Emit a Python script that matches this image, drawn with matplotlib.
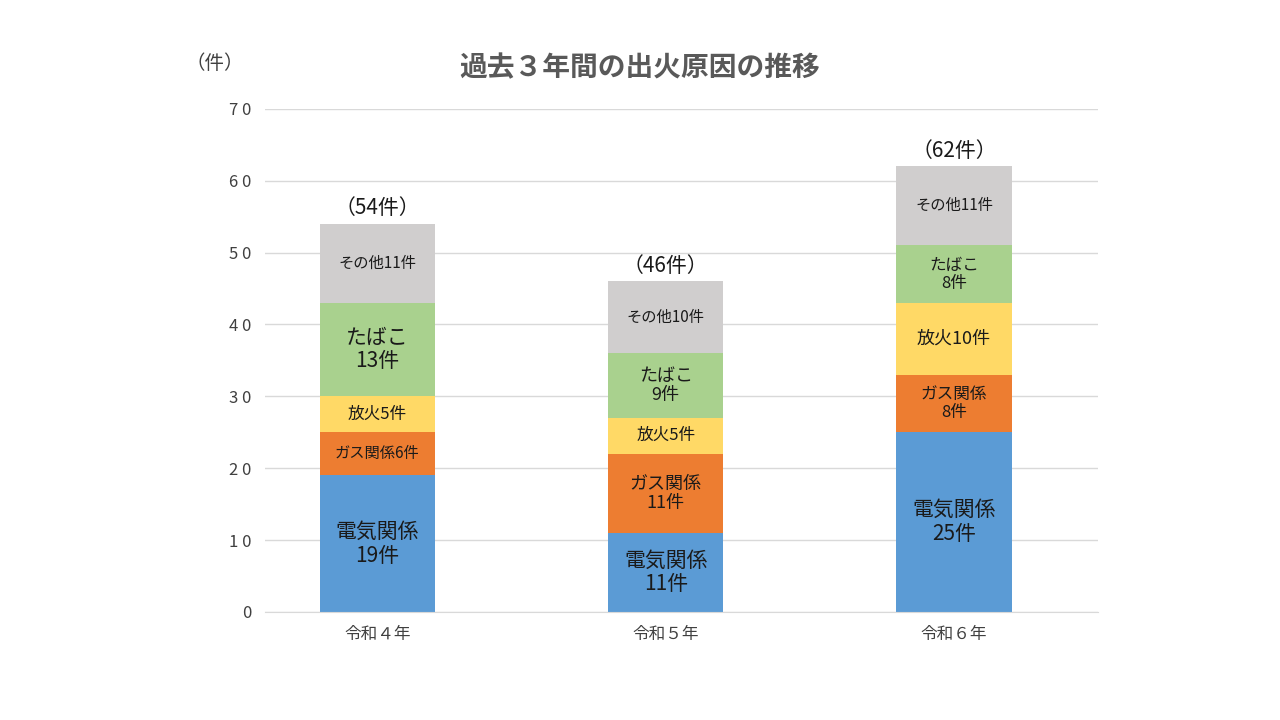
import matplotlib.pyplot as plt

plt.rcParams['font.family'] = 'Noto Sans CJK JP'

years = ['令和４年', '令和５年', '令和６年']
causes = ['電気関係', 'ガス関係', '放火', 'たばこ', 'その他']
values = {
    '電気関係': [19, 11, 25],
    'ガス関係': [6, 11, 8],
    '放火': [5, 5, 10],
    'たばこ': [13, 9, 8],
    'その他': [11, 10, 11],
}
totals = [54, 46, 62]
colors = ['#5B9BD5', '#ED7D31', '#FFD966', '#A9D18E', '#D0CECE']

# segment labels as shown in the chart (text, fontsize)
labels = {
    '電気関係': [('電気関係\n19件', 15), ('電気関係\n11件', 15), ('電気関係\n25件', 15)],
    'ガス関係': [('ガス関係6件', 11), ('ガス関係\n11件', 13), ('ガス関係\n8件', 12)],
    '放火': [('放火5件', 12), ('放火5件', 12), ('放火10件', 13)],
    'たばこ': [('たばこ\n13件', 15), ('たばこ\n9件', 13), ('たばこ\n8件', 12)],
    'その他': [('その他11件', 11), ('その他10件', 11), ('その他11件', 11)],
}

fig = plt.figure(figsize=(12.8, 7.2), dpi=100)
ax = fig.add_axes([0.207, 0.15, 0.651, 0.699])

x = list(range(len(years)))
bottom = [0, 0, 0]
for c, col in zip(causes, colors):
    ax.bar(x, values[c], 0.4, bottom=bottom, color=col, zorder=2)
    for i in x:
        txt, fs = labels[c][i]
        ax.text(i, bottom[i] + values[c][i] / 2, txt, ha='center', va='center',
                fontsize=fs, color='#1a1a1a', linespacing=1.1, zorder=3)
    bottom = [b + v for b, v in zip(bottom, values[c])]

for i, t in zip(x, totals):
    ax.text(i, t + 0.6, f'（{t}件）', ha='center', va='bottom', fontsize=15, color='#1a1a1a')

ax.set_xlim(-0.39, 2.5)
ax.set_ylim(0, 70)
ax.set_yticks(range(0, 71, 10))
ax.set_yticklabels(['0'] + [f'{v // 10} 0' for v in range(10, 71, 10)], fontsize=12, color='#404040')
ax.set_xticks(x)
ax.set_xticklabels(years, fontsize=12, color='#404040')
ax.tick_params(length=0, pad=10)
ax.grid(axis='y', color='#d9d9d9', linewidth=1, zorder=0)
for s in ['top', 'right', 'left']:
    ax.spines[s].set_visible(False)
ax.spines['bottom'].set_color('#d9d9d9')

fig.text(0.5, 0.905, '過去３年間の出火原因の推移', ha='center', va='center',
         fontsize=20, fontweight='bold', color='#595959')
fig.text(0.168, 0.912, '（件）', ha='center', va='center', fontsize=14, color='#404040')

fig.savefig('out.png')
